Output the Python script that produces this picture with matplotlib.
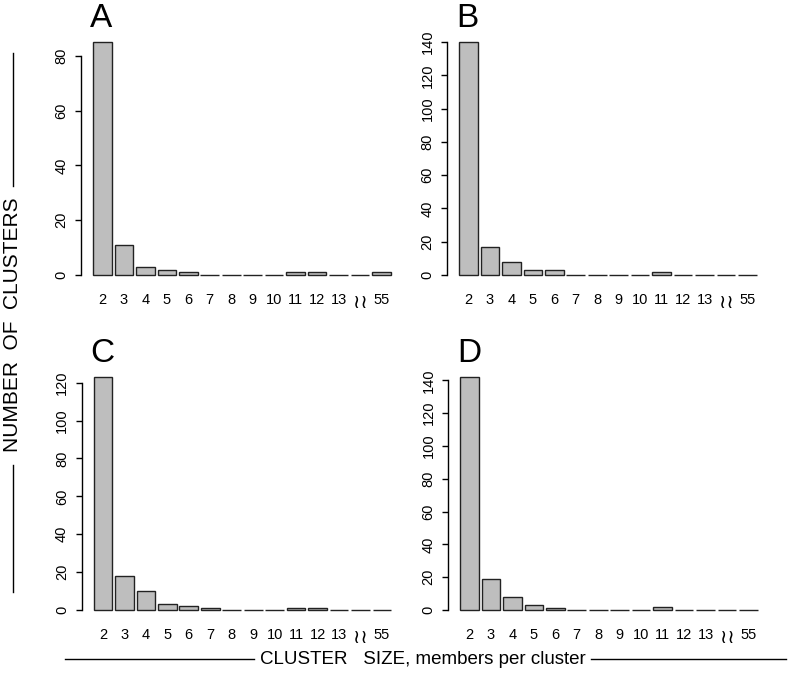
import matplotlib
matplotlib.use("Agg")
import matplotlib.pyplot as plt
from matplotlib.lines import Line2D

plt.rcParams['font.family'] = ['Liberation Sans', 'DejaVu Sans']

# ---- data ----
size_labels = ['2', '3', '4', '5', '6', '7', '8', '9', '10', '11', '12', '13', '\u2240\u2240', '55']
counts_A = [85, 11, 3, 2, 1, 0, 0, 0, 0, 1, 1, 0, 0, 1]
counts_B = [140, 17, 8, 3, 3, 0, 0, 0, 0, 2, 0, 0, 0, 0]
counts_C = [123, 18, 10, 3, 2, 1, 0, 0, 0, 1, 1, 0, 0, 0]
counts_D = [142, 19, 8, 3, 1, 0, 0, 0, 0, 2, 0, 0, 0, 0]
panel_letters = ['A', 'B', 'C', 'D']
yticks_A = [0, 20, 40, 60, 80]
yticks_B = [0, 20, 40, 60, 80, 100, 120, 140]
yticks_C = [0, 20, 40, 60, 80, 100, 120]
yticks_D = [0, 20, 40, 60, 80, 100, 120, 140]
ylabel = 'NUMBER  OF  CLUSTERS'
xlabel = 'CLUSTER   SIZE, members per cluster'

W, H = 790, 673
fig = plt.figure(figsize=(W / 100, H / 100), dpi=100)

def px_x(x):
    return x / W

def px_y(y):
    return (H - y) / H

# panel geometry (pixels): axis-left x, zero-y, max-y
panels = [
    (counts_A, yticks_A, panel_letters[0], 81, 275, 42),
    (counts_B, yticks_B, panel_letters[1], 447, 275, 42),
    (counts_C, yticks_C, panel_letters[2], 81.5, 610, 377),
    (counts_D, yticks_D, panel_letters[3], 448, 610, 377),
]
pitch = 21.46
xl0, xl1 = -1.0, 14.0

for counts, yt, letter, axx, y0, ym in panels:
    m = max(counts)
    span = y0 - ym
    ext = 0.04 * span
    bottom = y0 + ext
    top = ym - ext
    ax = fig.add_axes([px_x(axx), px_y(bottom), (xl1 - xl0) * pitch / W, (bottom - top) / H])
    xs = list(range(len(counts)))
    ax.bar(xs, counts, width=0.87, color='#bebebe', edgecolor='#222222', linewidth=1.0)
    ax.set_xlim(xl0, xl1)
    ax.set_ylim(-0.04 * m, 1.04 * m)
    for s in ['top', 'right', 'bottom']:
        ax.spines[s].set_visible(False)
    ax.spines['left'].set_bounds(yt[0], yt[-1])
    ax.spines['left'].set_linewidth(1.0)
    ax.set_yticks(yt)
    ax.set_yticklabels([str(v) for v in yt], rotation=90, va='center', fontsize=10.5)
    ax.tick_params(axis='y', length=4, width=1.0, pad=5)
    ax.set_xticks(xs)
    ax.set_xticklabels(size_labels, fontsize=10.5)
    ax.tick_params(axis='x', length=0, pad=6)
    brk = ax.get_xticklabels()[12]
    brk.set_fontsize(14)
    brk.set_family(['DejaVu Sans'])
    fig.text(px_x(axx + 9), px_y(ym - 15), letter, fontsize=24, ha='left', va='baseline')

# y label with lines
fig.text(px_x(13), px_y(325), ylabel, rotation=90, ha='center', va='center', fontsize=15)
fig.add_artist(Line2D([px_x(13), px_x(13)], [px_y(53), px_y(186)], color='black', lw=1.0))
fig.add_artist(Line2D([px_x(13), px_x(13)], [px_y(465), px_y(592)], color='black', lw=1.0))

# x label with lines
fig.text(px_x(423), px_y(659), xlabel, ha='center', va='center', fontsize=13.5)
fig.add_artist(Line2D([px_x(65), px_x(254)], [px_y(659), px_y(659)], color='black', lw=1.0))
fig.add_artist(Line2D([px_x(591), px_x(786)], [px_y(659), px_y(659)], color='black', lw=1.0))

fig.savefig('out.png', dpi=100)
